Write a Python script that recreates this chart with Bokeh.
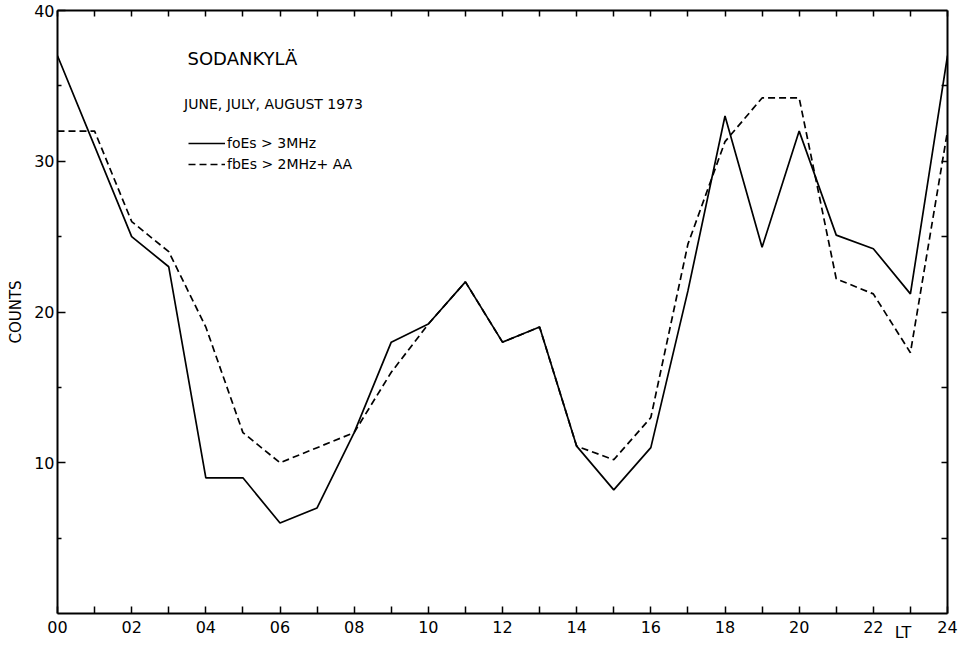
from bokeh.plotting import figure
from bokeh.models import Range1d, LinearAxis, FixedTicker, Label, Legend, LegendItem, AllLabels
from bokeh.embed import file_html
from bokeh.resources import INLINE

# ---- data ----
hours = list(range(25))
foes_3mhz = [37, 31, 25, 23, 9, 9, 6, 7, 12, 18, 19.2, 22, 18, 19, 11.1, 8.2, 11,
             21.4, 33, 24.3, 32, 25.1, 24.2, 21.2, 37]
fbes_2mhz_aa = [32, 32, 26, 24, 19, 12, 10, 11, 12, 16, 19.2, 22, 18, 19, 11.1, 10.2, 13,
                24.5, 31.3, 34.2, 34.2, 22.2, 21.2, 17.3, 32]

x_major_ticks = list(range(0, 25, 2))
x_minor_ticks = list(range(1, 25, 2))
x_tick_labels = ["00", "02", "04", "06", "08", "10", "12", "14", "16", "18", "20", "22", "24"]
y_major_ticks = [10, 20, 30, 40]
y_minor_ticks = [5, 15, 25, 35]
y_right_ticks = [5, 10, 15, 20, 25, 30, 35]

station = "SODANKYLÄ"
period = "JUNE, JULY, AUGUST 1973"
series_names = ["foEs > 3MHz", "fbEs > 2MHz+ AA"]
x_unit_label = "LT"
x_unit_pos = 22.8

FONT = "DejaVu Sans"

p = figure(width=958, height=645, output_backend="svg", toolbar_location=None,
           x_range=Range1d(0, 24), y_range=Range1d(0, 40),
           min_border_left=57, min_border_right=11, min_border_top=10, min_border_bottom=32)
p.grid.visible = False
p.outline_line_color = None
p.background_fill_color = "white"
p.border_fill_color = "white"

# bottom axis: ticks + hour labels
xa = p.xaxis[0]
xa.ticker = FixedTicker(ticks=x_major_ticks, minor_ticks=x_minor_ticks)
xa.major_label_overrides = {t: lab for t, lab in zip(x_major_ticks, x_tick_labels)}
xa.major_tick_in = 7
xa.major_tick_out = 0
xa.minor_tick_in = 7
xa.minor_tick_out = 0
xa.major_label_standoff = 7
xa.major_label_text_font = FONT
xa.major_label_text_font_size = "16px"

# second bottom axis carrying only the "LT" unit text
lt_axis = LinearAxis(ticker=FixedTicker(ticks=[x_unit_pos], minor_ticks=[]),
                     major_label_overrides={x_unit_pos: x_unit_label},
                     major_label_policy=AllLabels(),
                     major_tick_in=0, major_tick_out=0, minor_tick_in=0, minor_tick_out=0,
                     axis_line_color=None, major_tick_line_color=None,
                     major_label_standoff=-13, major_label_text_font=FONT,
                     major_label_text_font_size="16px", major_label_text_color="black")
p.add_layout(lt_axis, "below")

# left axis
ya = p.yaxis[0]
ya.ticker = FixedTicker(ticks=y_major_ticks, minor_ticks=y_minor_ticks)
ya.major_tick_in = 8
ya.major_tick_out = 0
ya.minor_tick_in = 4
ya.minor_tick_out = 0
ya.major_label_standoff = 3
ya.major_label_text_font = FONT
ya.major_label_text_font_size = "16px"
ya.axis_label = "COUNTS"
ya.axis_label_text_font = FONT
ya.axis_label_text_font_size = "15px"
ya.axis_label_text_font_style = "normal"
ya.axis_label_text_color = "black"
ya.axis_label_standoff = 6

# top axis (ticks only)
ta = LinearAxis(ticker=FixedTicker(ticks=hours, minor_ticks=[]),
                major_tick_in=6, major_tick_out=0, minor_tick_in=0, minor_tick_out=0,
                major_label_overrides={h: "" for h in hours},
                major_label_text_font_size="0px", major_label_standoff=0)
p.add_layout(ta, "above")
# right axis (ticks only)
ra = LinearAxis(ticker=FixedTicker(ticks=y_right_ticks, minor_ticks=[]),
                major_tick_in=6, major_tick_out=0, minor_tick_in=0, minor_tick_out=0,
                major_label_overrides={t: "" for t in y_right_ticks},
                major_label_text_font_size="0px", major_label_standoff=0)
p.add_layout(ra, "right")

for ax in [xa, ya, ta, ra]:
    ax.axis_line_color = "black"
    ax.axis_line_width = 2
    ax.major_tick_line_color = "black"
    ax.major_tick_line_width = 1.5
    ax.minor_tick_line_color = "black"
    ax.minor_tick_line_width = 1.5
    ax.major_label_text_color = "black"

r1 = p.line(hours, foes_3mhz, line_color="black", line_width=1.7)
r2 = p.line(hours, fbes_2mhz_aa, line_color="black", line_width=1.7, line_dash="7 4")

legend = Legend(items=[LegendItem(label=series_names[0], renderers=[r1]),
                       LegendItem(label=series_names[1], renderers=[r2])],
                location=(131, 440), orientation="vertical",
                glyph_width=37, glyph_height=18, label_height=18, label_standoff=2,
                spacing=3, padding=0, margin=0,
                background_fill_alpha=0, border_line_color=None,
                label_text_font=FONT, label_text_font_size="14px", label_text_color="black")
p.add_layout(legend, "center")

p.add_layout(Label(x=3.506, y=36.8, text=station, text_font=FONT, text_font_size="18px",
                   text_baseline="alphabetic", text_color="black"))
p.add_layout(Label(x=3.414, y=33.8, text=period, text_font=FONT, text_font_size="14px",
                   text_baseline="alphabetic", text_color="black"))

open("out.html", "w").write(file_html(p, INLINE))
